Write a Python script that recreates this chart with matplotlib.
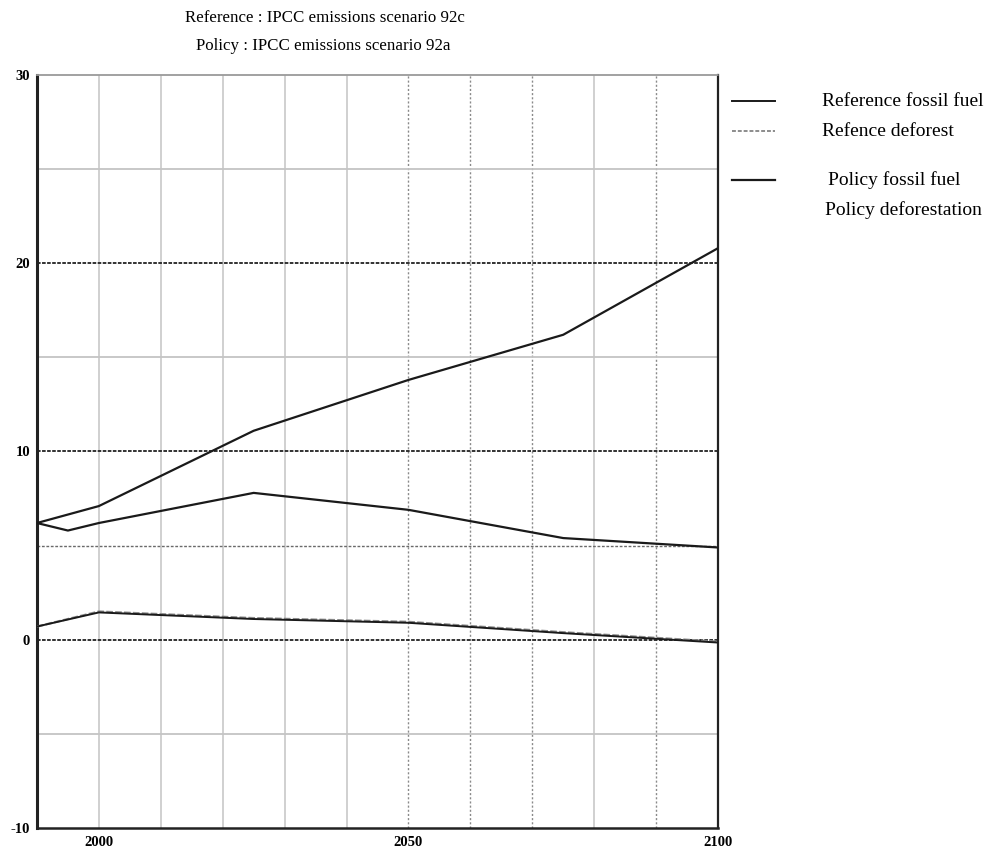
import numpy as np
import matplotlib.pyplot as plt

plt.rcParams['font.family'] = ['Liberation Serif', 'DejaVu Serif']

# emissions (GtC/yr) at the scenario milestone years
years = [1990, 2000, 2025, 2050, 2075, 2100]
ref_fossil = [6.2, 7.1, 11.1, 13.8, 16.2, 20.8]
ref_deforest = [0.7, 1.5, 1.15, 0.95, 0.4, -0.1]
policy_deforest = [0.7, 1.45, 1.1, 0.9, 0.35, -0.15]

# the policy fossil curve dips briefly just after 1990
policy_fossil_years = [1990, 1995, 2000, 2025, 2050, 2075, 2100]
policy_fossil = [6.2, 5.8, 6.2, 7.8, 6.9, 5.4, 4.9]

legend_labels = ['Reference fossil fuel', 'Refence deforest',
                 'Policy fossil fuel', 'Policy deforestation']
title_lines = ['Reference : IPCC emissions scenario 92c',
               'Policy : IPCC emissions scenario 92a']

fig = plt.figure(figsize=(9.96, 8.52), dpi=100)
ax = fig.add_axes([0.0371, 0.0282, 0.6838, 0.8838])

ax.set_xlim(1990, 2100)
ax.set_ylim(-10, 30)

# grid
vstyles = {2000: 'solid', 2010: 'solid', 2020: 'solid', 2030: 'solid',
           2040: 'solid', 2050: 'dotted', 2060: 'dotted', 2070: 'dotted',
           2080: 'solid', 2090: 'dotted'}
for yr, ls in vstyles.items():
    if ls == 'solid':
        ax.axvline(yr, color='#c4c4c4', lw=1.1, zorder=1)
    else:
        ax.axvline(yr, color='#8a8a8a', lw=1.0, ls=(0, (1.5, 1.5)), zorder=1)
for yv in [25, 15, -5]:
    ax.axhline(yv, color='#c4c4c4', lw=1.3, zorder=1)
ax.axhline(5, color='#6a6a6a', lw=1.0, ls=(0, (2, 1.2)), zorder=1)
for yv in [20, 10, 0]:
    ax.axhline(yv, color='#222222', lw=1.3, ls=(0, (2, 0.8)), zorder=1)

ax.plot(years, ref_fossil, color='#1a1a1a', lw=1.6, zorder=3)
ax.plot(policy_fossil_years, policy_fossil, color='#1a1a1a', lw=1.6, zorder=3)
ax.plot(years, ref_deforest, color='#8c8c8c', lw=1.6, ls=(0, (3, 1)), zorder=3)
ax.plot(years, policy_deforest, color='#1a1a1a', lw=1.4, zorder=3)

for side in ['left', 'bottom', 'right']:
    ax.spines[side].set_color('#222222')
ax.spines['left'].set_linewidth(2.2)
ax.spines['bottom'].set_linewidth(1.8)
ax.spines['right'].set_linewidth(1.6)
ax.spines['top'].set_color('#9a9a9a')
ax.spines['top'].set_linewidth(1.3)
ax.spines['top'].set_linestyle((0, (2, 1)))

ax.set_yticks([30, 20, 10, 0, -10])
ax.set_yticklabels(['30', '20', '10', '0', '-10'])
ax.set_xticks([2000, 2050, 2100])
ax.set_xticklabels(['2000', '2050', '2100'])
ax.tick_params(axis='y', length=0, labelsize=10.5, pad=5)
ax.tick_params(axis='x', length=0, labelsize=10.5, pad=6)
for lab in ax.get_xticklabels() + ax.get_yticklabels():
    lab.set_fontweight('bold')

# titles, slightly left of the axes centre
fig.text(325 / 996, 1 - 18 / 852, title_lines[0], ha='center', va='center', fontsize=12.2)
fig.text(323 / 996, 1 - 46 / 852, title_lines[1], ha='center', va='center', fontsize=12.2)

# hand-placed key to the right of the plot
key_rows = [101, 131, 180, 210]
key_styles = [dict(color='#1a1a1a', lw=1.4),
              dict(color='#8c8c8c', lw=1.4, ls=(0, (2, 1))),
              dict(color='#1a1a1a', lw=1.6),
              None]
key_x = [822, 822, 828, 825]
for row, style, lab, tx in zip(key_rows, key_styles, legend_labels, key_x):
    yf = 1 - row / 852
    if style is not None:
        fig.add_artist(plt.Line2D([732 / 996, 775 / 996], [yf, yf], **style))
    fig.text(tx / 996, yf, lab, ha='left', va='center', fontsize=14)

fig.savefig('out.png', dpi=100)
